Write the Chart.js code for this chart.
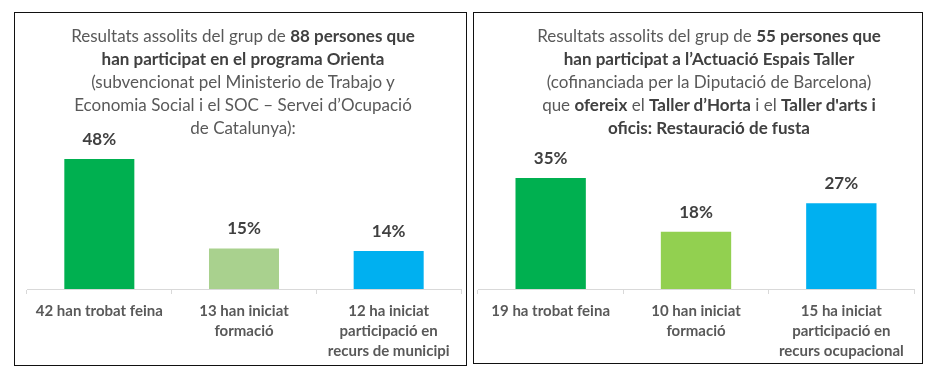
<!DOCTYPE html>
<html><head><meta charset="utf-8">
<script src="https://cdn.jsdelivr.net/npm/chart.js@4.4.1/dist/chart.umd.min.js"></script>
<style>
html,body{margin:0;padding:0;background:#fff;}
body{width:942px;height:381px;position:relative;overflow:hidden;font-family:Lato,"Noto Sans",sans-serif;}
.panel{position:absolute;border:1.5px solid #111;box-sizing:border-box;}
#p1{left:14px;top:12px;width:453px;height:354px;}
#p2{left:473px;top:12px;width:450px;height:352px;}
.title{position:absolute;text-align:center;font-size:17px;line-height:23px;color:#595959;white-space:nowrap;}
.title b{color:#404040;font-weight:700;}
canvas{position:absolute;}
</style>
</head><body>
<div class="panel" id="p1"></div>
<div class="panel" id="p2"></div>
<canvas id="c1" width="449" height="350" style="left:16px;top:14px;"></canvas>
<canvas id="c2" width="446" height="348" style="left:475px;top:14px;"></canvas>
<div class="title" style="left:43px;top:24px;width:400px;">Resultats assolits del grup de <b>88 persones que</b><br><b>han participat en el programa Orienta</b><br>(subvencionat pel Ministerio de Trabajo y<br>Economia Social i el SOC – Servei d’Ocupació<br>de Catalunya):</div>
<div class="title" style="left:509px;top:24px;width:400px;">Resultats assolits del grup de <b>55 persones que</b><br><b>han participat a l’Actuació Espais Taller</b><br>(cofinanciada per la Diputació de Barcelona)<br>que <b>ofereix</b> el <b>Taller d’Horta</b> i el <b>Taller d'arts i</b><br><b>oficis: Restauració de fusta</b></div>
<script>
// Chart 1 data
const categories1 = [['42 han trobat feina'], ['13 han iniciat', 'formació'], ['12 ha iniciat', 'participació en', 'recurs de municipi']];
const values1 = [48, 15, 14];
// Chart 2 data
const categories2 = [['19 ha trobat feina'], ['10 han iniciat', 'formació'], ['15 ha iniciat', 'participació en', 'recurs ocupacional']];
const values2 = [35, 18, 27];

const colors1 = ['#00B050', '#A9D18E', '#00B0F0'];
const colors2 = ['#00B050', '#92D050', '#00B0F0'];

const valueLabels = {
  id: 'valueLabels',
  afterDatasetsDraw(chart) {
    const ctx = chart.ctx;
    const meta = chart.getDatasetMeta(0);
    const data = chart.data.datasets[0].data;
    ctx.save();
    ctx.font = 'bold 17px Lato';
    ctx.fillStyle = '#404040';
    ctx.textAlign = 'center';
    ctx.textBaseline = 'alphabetic';
    meta.data.forEach((bar, i) => {
      ctx.fillText(data[i] + '%', bar.x, bar.y - 14);
    });
    ctx.restore();
  }
};

function makeChart(id, cats, vals, cols, yMax, pad, axisH) {
  return new Chart(document.getElementById(id), {
    type: 'bar',
    data: {
      labels: cats,
      datasets: [{ data: vals, backgroundColor: cols, borderWidth: 0, barPercentage: 0.484, categoryPercentage: 1 }]
    },
    options: {
      responsive: false,
      animation: false,
      events: [],
      layout: { padding: pad },
      plugins: { legend: { display: false }, title: { display: false }, tooltip: { enabled: false } },
      scales: {
        x: {
          grid: { display: true, offset: true, drawOnChartArea: false, drawTicks: true, tickLength: 5, color: '#d9d9d9', lineWidth: 1 },
          border: { display: true, color: '#d9d9d9', width: 1 },
          ticks: { color: '#595959', font: { family: 'Lato', size: 15, weight: 'bold', lineHeight: 1.34 }, padding: 7, maxRotation: 0, autoSkip: false },
          afterFit(axis) { axis.height = axisH; }
        },
        y: { display: false, min: 0, max: yMax }
      }
    },
    plugins: [valueLabels]
  });
}

makeChart('c1', categories1, values1, colors1, 60, { left: 11, right: 4, top: 112.5, bottom: 0 }, 75);
makeChart('c2', categories2, values2, colors2, 50, { left: 3, right: 7, top: 116.25, bottom: 0 }, 73);
</script>
</body></html>
